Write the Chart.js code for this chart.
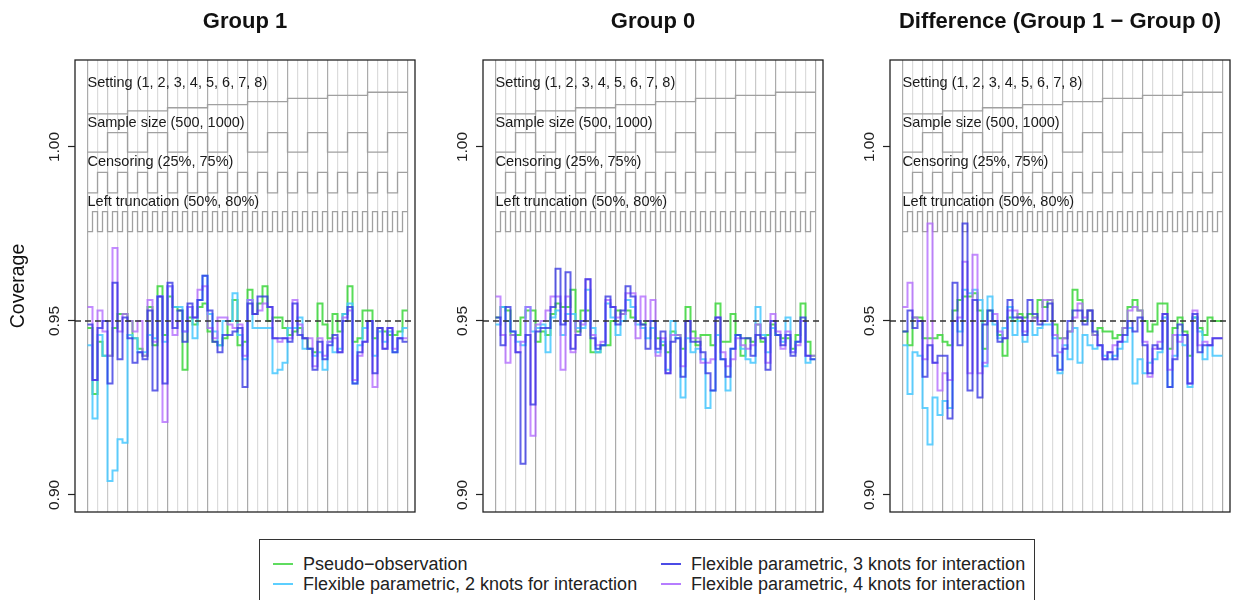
<!DOCTYPE html>
<html>
<head>
<meta charset="utf-8">
<script src="https://cdn.jsdelivr.net/npm/chart.js@4.4.1/dist/chart.umd.min.js"></script>
<style>
  body { margin: 0; background: #fff; }
  #wrap { position: relative; width: 1242px; height: 600px; overflow: hidden; font-family: "Liberation Sans", Arial, sans-serif; }
  canvas.panel { position: absolute; top: 0; }
  #legend { position: absolute; left: 259px; top: 539px; width: 776px; height: 64px; border: 1px solid #333; box-sizing: border-box; }
  .item { position: absolute; font-size: 18px; color: #222; line-height: 20px; white-space: nowrap; }
  .item i { display: inline-block; width: 20px; height: 2px; vertical-align: middle; margin-right: 10px; position: relative; top: -1px; }
</style>
</head>
<body>
<div id="wrap">
  <canvas id="c1" class="panel" width="425" height="530" style="left:0px"></canvas>
  <canvas id="c0" class="panel" width="425" height="530" style="left:408px"></canvas>
  <canvas id="cd" class="panel" width="425" height="530" style="left:815px"></canvas>
  <div id="legend"></div>
</div>
<script>
// 64 scenarios: setting x sample size x censoring x left truncation
const settingLevels = [1,1,1,1,1,1,1,1, 2,2,2,2,2,2,2,2, 3,3,3,3,3,3,3,3, 4,4,4,4,4,4,4,4,
                       5,5,5,5,5,5,5,5, 6,6,6,6,6,6,6,6, 7,7,7,7,7,7,7,7, 8,8,8,8,8,8,8,8];
const sampleLevels = [500,500,500,500,1000,1000,1000,1000, 500,500,500,500,1000,1000,1000,1000,
                      500,500,500,500,1000,1000,1000,1000, 500,500,500,500,1000,1000,1000,1000,
                      500,500,500,500,1000,1000,1000,1000, 500,500,500,500,1000,1000,1000,1000,
                      500,500,500,500,1000,1000,1000,1000, 500,500,500,500,1000,1000,1000,1000];
const censorLevels = [25,25,75,75, 25,25,75,75, 25,25,75,75, 25,25,75,75, 25,25,75,75, 25,25,75,75, 25,25,75,75, 25,25,75,75,
                      25,25,75,75, 25,25,75,75, 25,25,75,75, 25,25,75,75, 25,25,75,75, 25,25,75,75, 25,25,75,75, 25,25,75,75];
const truncLevels = [50,80,50,80,50,80,50,80,50,80,50,80,50,80,50,80,50,80,50,80,50,80,50,80,50,80,50,80,50,80,50,80,
                     50,80,50,80,50,80,50,80,50,80,50,80,50,80,50,80,50,80,50,80,50,80,50,80,50,80,50,80,50,80,50,80];

const loopLabels = ["Setting (1, 2, 3, 4, 5, 6, 7, 8)", "Sample size (500, 1000)", "Censoring (25%, 75%)", "Left truncation (50%, 80%)"];
const methodNames = ["Pseudo\u2212observation", "Flexible parametric, 2 knots for interaction",
                     "Flexible parametric, 3 knots for interaction", "Flexible parametric, 4 knots for interaction"];
const panelTitles = ["Group 1", "Group 0", "Difference (Group 1 \u2212 Group 0)"];
const yTicks = [0.90, 0.95, 1.00];
const gridBreaks = [0,2,4,6,8,10,12,14,16,18,20,22,24,26,28,30,32,34,36,38,40,42,44,46,48,50,52,54,56,58,60,62,64];
const nominal = 0.95;

// Group 1
const g1Pseudo = [0.948,0.929,0.944,0.940,0.940,0.948,0.952,0.952,0.950,0.945, 0.942,0.940,0.954,0.943,0.960,0.946,0.957,0.954,0.953,0.936,
  0.951,0.949,0.954,0.955,0.947,0.944,0.943,0.945,0.950,0.956, 0.943,0.944,0.959,0.952,0.955,0.960,0.950,0.951,0.951,0.948,
  0.946,0.947,0.948,0.945,0.942,0.941,0.955,0.949,0.945,0.952, 0.947,0.952,0.960,0.944,0.945,0.953,0.953,0.945,0.948,0.947,
  0.946,0.946,0.947,0.953];
const g1Fp2 = [0.943,0.922,0.946,0.940,0.904,0.907,0.916,0.915,0.946,0.945, 0.941,0.941,0.946,0.945,0.957,0.944,0.960,0.954,0.954,0.947,
  0.954,0.945,0.956,0.963,0.952,0.947,0.943,0.950,0.950,0.958, 0.946,0.939,0.956,0.948,0.948,0.948,0.948,0.935,0.936,0.938,
  0.948,0.948,0.951,0.942,0.942,0.940,0.941,0.936,0.944,0.941, 0.942,0.952,0.955,0.932,0.943,0.948,0.950,0.940,0.947,0.944,
  0.947,0.941,0.945,0.948];
const g1Fp3 = [0.949,0.933,0.948,0.950,0.932,0.961,0.939,0.951,0.945,0.938, 0.941,0.939,0.953,0.930,0.957,0.932,0.961,0.948,0.953,0.944,
  0.955,0.951,0.956,0.963,0.953,0.944,0.941,0.946,0.946,0.947, 0.948,0.931,0.955,0.952,0.957,0.957,0.954,0.945,0.945,0.945,
  0.944,0.955,0.946,0.945,0.942,0.936,0.944,0.939,0.943,0.946, 0.941,0.950,0.954,0.932,0.941,0.944,0.950,0.935,0.948,0.942,
  0.948,0.941,0.945,0.944];
const g1Fp4 = [0.954,0.933,0.953,0.947,0.940,0.971,0.947,0.952,0.950,0.947, 0.950,0.940,0.956,0.944,0.957,0.921,0.960,0.946,0.950,0.947,
  0.954,0.951,0.959,0.960,0.948,0.945,0.951,0.951,0.949,0.948, 0.949,0.940,0.956,0.952,0.953,0.955,0.954,0.945,0.944,0.945,
  0.945,0.956,0.949,0.945,0.945,0.937,0.945,0.940,0.944,0.945, 0.941,0.951,0.953,0.933,0.940,0.944,0.950,0.931,0.948,0.942,
  0.948,0.942,0.945,0.945];

// Group 0
const g0Pseudo = [0.951,0.954,0.953,0.946,0.946,0.951,0.953,0.953,0.944,0.947, 0.946,0.952,0.955,0.954,0.954,0.959,0.947,0.953,0.953,0.941,
  0.941,0.943,0.943,0.950,0.953,0.952,0.953,0.951,0.950,0.949, 0.950,0.950,0.945,0.943,0.941,0.947,0.946,0.942,0.954,0.947,
  0.943,0.946,0.946,0.943,0.955,0.944,0.944,0.952,0.946,0.940, 0.945,0.944,0.949,0.944,0.946,0.949,0.946,0.945,0.945,0.942,
  0.946,0.955,0.944,0.940];
const g0Fp2 = [0.949,0.954,0.950,0.947,0.944,0.943,0.954,0.947,0.948,0.949, 0.941,0.951,0.953,0.946,0.952,0.952,0.948,0.948,0.959,0.948,
  0.941,0.943,0.955,0.951,0.946,0.950,0.956,0.954,0.949,0.948, 0.945,0.948,0.941,0.944,0.936,0.950,0.945,0.928,0.945,0.941,
  0.942,0.939,0.925,0.930,0.946,0.939,0.930,0.942,0.946,0.942, 0.939,0.938,0.954,0.946,0.941,0.948,0.946,0.944,0.951,0.941,
  0.944,0.950,0.938,0.939];
const g0Fp3 = [0.951,0.943,0.954,0.947,0.941,0.909,0.946,0.926,0.947,0.948, 0.948,0.954,0.965,0.949,0.964,0.942,0.946,0.950,0.962,0.945,
  0.942,0.943,0.957,0.954,0.949,0.953,0.960,0.957,0.950,0.949, 0.942,0.950,0.942,0.947,0.935,0.944,0.945,0.934,0.950,0.944,
  0.944,0.941,0.935,0.930,0.951,0.939,0.934,0.942,0.946,0.945, 0.945,0.940,0.946,0.945,0.936,0.950,0.946,0.943,0.946,0.940,
  0.944,0.951,0.940,0.939];
const g0Fp4 = [0.957,0.946,0.938,0.946,0.941,0.944,0.954,0.917,0.949,0.950, 0.953,0.957,0.957,0.936,0.957,0.941,0.950,0.949,0.962,0.946,
  0.943,0.944,0.956,0.954,0.951,0.952,0.958,0.958,0.945,0.957, 0.950,0.956,0.940,0.945,0.935,0.946,0.946,0.937,0.950,0.945,
  0.945,0.938,0.938,0.939,0.951,0.941,0.937,0.939,0.945,0.943, 0.942,0.943,0.949,0.945,0.938,0.952,0.947,0.942,0.947,0.941,
  0.943,0.950,0.940,0.940];

// Difference
const dfPseudo = [0.947,0.943,0.951,0.951,0.945,0.945,0.945,0.946,0.944,0.943, 0.953,0.956,0.957,0.957,0.958,0.953,0.942,0.953,0.950,0.946,
  0.940,0.951,0.950,0.952,0.951,0.952,0.951,0.956,0.954,0.956, 0.949,0.945,0.945,0.947,0.959,0.956,0.950,0.953,0.946,0.948,
  0.947,0.947,0.945,0.946,0.948,0.954,0.956,0.953,0.950,0.947, 0.949,0.955,0.955,0.942,0.948,0.951,0.947,0.940,0.951,0.948,
  0.946,0.951,0.950,0.950];
const dfFp2 = [0.943,0.929,0.941,0.940,0.925,0.9145,0.928,0.923,0.927,0.925, 0.950,0.947,0.959,0.958,0.959,0.956,0.937,0.957,0.949,0.945,
  0.948,0.954,0.946,0.950,0.944,0.950,0.946,0.948,0.949,0.949, 0.945,0.935,0.943,0.939,0.948,0.938,0.946,0.943,0.942,0.943,
  0.940,0.939,0.940,0.942,0.944,0.948,0.932,0.939,0.935,0.938, 0.939,0.941,0.951,0.931,0.940,0.946,0.943,0.931,0.951,0.947,
  0.939,0.943,0.940,0.940];
const dfFp3 = [0.947,0.953,0.948,0.950,0.934,0.943,0.938,0.940,0.940,0.922, 0.961,0.943,0.978,0.930,0.956,0.928,0.949,0.953,0.950,0.944,
  0.945,0.956,0.951,0.951,0.946,0.956,0.952,0.949,0.950,0.955, 0.940,0.936,0.942,0.950,0.953,0.953,0.949,0.953,0.947,0.943,
  0.939,0.941,0.939,0.944,0.946,0.950,0.947,0.951,0.943,0.935, 0.943,0.942,0.952,0.931,0.939,0.949,0.946,0.932,0.952,0.941,
  0.943,0.943,0.945,0.945];
const dfFp4 = [0.954,0.961,0.951,0.950,0.939,0.978,0.938,0.930,0.935,0.933, 0.950,0.951,0.967,0.935,0.969,0.935,0.938,0.950,0.952,0.947,
  0.945,0.953,0.953,0.951,0.947,0.950,0.951,0.950,0.956,0.956, 0.946,0.941,0.945,0.947,0.951,0.955,0.951,0.953,0.946,0.943,
  0.939,0.941,0.943,0.944,0.948,0.953,0.954,0.953,0.944,0.934, 0.942,0.944,0.952,0.936,0.946,0.944,0.946,0.932,0.953,0.943,
  0.944,0.943,0.945,0.945];

// where the nested-loop guide lines sit (in coverage units, above the data)
const settingY = lvl => 1.0095 + (lvl - 1) * 0.00089;
const sampleY = lvl => lvl === 500 ? 0.9985 : 1.0041;
const censorY = lvl => lvl === 25 ? 0.9868 : 0.9927;
const truncY = lvl => lvl === 50 ? 0.9757 : 0.9814;
const loopLabelY = [1.0184, 1.0069, 0.9957, 0.9843];

const methodColors = ["rgba(60,215,60,0.85)", "rgba(70,200,255,0.85)", "rgba(45,45,225,0.75)", "rgba(175,100,255,0.75)"];
const legendColors = ["#5fdc5f", "#5ccfff", "#4b4be6", "#b67dff"];
const FONT = '"Liberation Sans", Arial, Helvetica, sans-serif';
Chart.defaults.font.family = FONT;

function stepData(values) {
    const pts = values.map((v, i) => ({x: i, y: v}));
    pts.push({x: values.length, y: values[values.length - 1]});
    return pts;
}

const decor = {
    id: 'decor',
    afterDatasetsDraw(chart) {
        const {ctx, chartArea: a, scales: {x, y}} = chart;
        ctx.save();
        // nominal level
        ctx.strokeStyle = '#333';
        ctx.lineWidth = 1.5;
        ctx.setLineDash([6, 4]);
        const yn = y.getPixelForValue(nominal);
        ctx.beginPath();
        ctx.moveTo(a.left, yn);
        ctx.lineTo(a.right, yn);
        ctx.stroke();
        ctx.setLineDash([]);
        // loop labels
        ctx.font = '14.5px ' + FONT;
        ctx.fillStyle = '#1a1a1a';
        ctx.textBaseline = 'middle';
        loopLabels.forEach((t, k) => ctx.fillText(t, x.getPixelForValue(0), y.getPixelForValue(loopLabelY[k])));
        // box
        ctx.strokeStyle = '#222';
        ctx.lineWidth = 1.3;
        ctx.strokeRect(a.left, a.top, a.right - a.left, a.bottom - a.top);
        ctx.restore();
    }
};

function guide(levels, toY) {
    return {
        data: stepData(levels.map(toY)),
        borderColor: '#a0a0a0',
        borderWidth: 1.3,
        pointRadius: 0,
        stepped: 'before',
        order: 10
    };
}

function method(values, k) {
    return {
        label: methodNames[k],
        data: stepData(values),
        borderColor: methodColors[k],
        borderWidth: 2,
        pointRadius: 0,
        stepped: 'before',
        order: [4, 3, 1, 2][k]
    };
}

function makePanel(id, title, series, showYTitle) {
    return new Chart(document.getElementById(id), {
        type: 'line',
        data: {
            datasets: [
                guide(settingLevels, settingY),
                guide(sampleLevels, sampleY),
                guide(censorLevels, censorY),
                guide(truncLevels, truncY),
                ...series.map((s, k) => method(s, k))
            ]
        },
        options: {
            responsive: false,
            animation: false,
            events: [],
            layout: { padding: { left: 0, right: 10, top: 9, bottom: 18 } },
            plugins: {
                legend: { display: false },
                tooltip: { enabled: false },
                title: {
                    display: true, text: title, fullSize: false, color: '#111',
                    font: { size: 22, weight: 'bold', family: FONT },
                    padding: { top: 0, bottom: 24.6 }
                }
            },
            scales: {
                x: {
                    type: 'linear', min: -2.5, max: 65.5,
                    afterBuildTicks: s => { s.ticks = gridBreaks.map(v => ({value: v})); },
                    grid: {
                        drawTicks: false, lineWidth: 1.2,
                        color: c => {
                            const v = c.tick ? c.tick.value : 1;
                            if (v % 8 === 0) return '#ababab';
                            if (v % 4 === 0) return '#c9c9c9';
                            return '#dcdcdc';
                        }
                    },
                    border: { display: false },
                    ticks: { display: false }
                },
                y: {
                    min: 0.8951, max: 1.025,
                    afterBuildTicks: s => { s.ticks = yTicks.map(v => ({value: v})); },
                    afterFit: s => { s.width = 75; },
                    grid: { drawOnChartArea: false, drawTicks: true, tickLength: 7, tickColor: '#222', tickWidth: 1.2 },
                    border: { display: false },
                    ticks: {
                        minRotation: 90, maxRotation: 90, crossAlign: 'center', padding: -1.5,
                        color: '#222', font: { size: 15.5, family: FONT },
                        callback: v => Number(v).toFixed(2)
                    },
                    title: {
                        display: showYTitle, text: 'Coverage', color: '#111',
                        font: { size: 19.5, family: FONT }, padding: { top: 7, bottom: 0 }
                    }
                }
            }
        },
        plugins: [decor]
    });
}

makePanel('c1', panelTitles[0], [g1Pseudo, g1Fp2, g1Fp3, g1Fp4], true);
makePanel('c0', panelTitles[1], [g0Pseudo, g0Fp2, g0Fp3, g0Fp4], false);
makePanel('cd', panelTitles[2], [dfPseudo, dfFp2, dfFp3, dfFp4], false);

// legend: two columns, two rows
const legend = document.getElementById('legend');
const spots = [[13, 14], [13, 34], [401, 14], [401, 34]];
methodNames.forEach((name, k) => {
    const el = document.createElement('div');
    el.className = 'item';
    el.style.left = spots[k][0] + 'px';
    el.style.top = spots[k][1] + 'px';
    el.innerHTML = '<i style="background:' + legendColors[k] + '"></i>' + name;
    legend.appendChild(el);
});
</script>
</body>
</html>
